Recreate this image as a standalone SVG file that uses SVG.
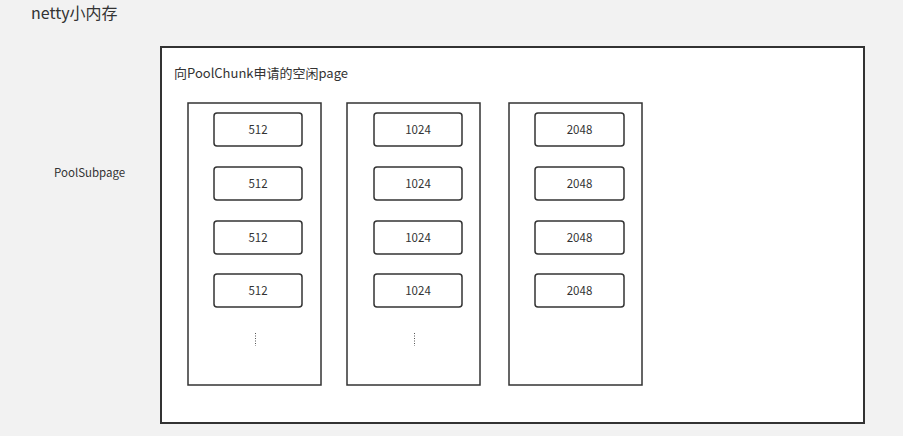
<svg xmlns="http://www.w3.org/2000/svg" width="903" height="436" viewBox="0 0 903 436">
<style>
text{font-family:"Noto Sans CJK SC","Open Sans","Liberation Sans",sans-serif;fill:#333}
.outer{fill:#fff;stroke:#333;stroke-width:2}
.col{fill:#fff;stroke:#333;stroke-width:1.5}
.cell{fill:#fff;stroke:#333;stroke-width:1.5}
.lbl{font-size:11.5px;text-anchor:middle}
.dots{stroke:#555;stroke-width:1;stroke-dasharray:1 1.5}
</style>
<rect width="903" height="436" fill="#f2f2f2"/>
<text x="31" y="19" font-size="16">netty小内存</text>
<text x="54" y="177" font-size="11.5">PoolSubpage</text>
<g id="chunk">
<rect class="outer" x="161" y="47" width="703" height="376"/>
<text x="174" y="78" font-size="13">向PoolChunk申请的空闲page</text>
</g>
<g id="col512">
<rect class="col" x="188" y="103" width="133" height="282"/>
</g>
<g id="col1024">
<rect class="col" x="347" y="103" width="133" height="282"/>
</g>
<g id="col2048">
<rect class="col" x="509" y="103" width="133" height="282"/>
</g>
<g id="c512a"><rect class="cell" x="214" y="113" width="88" height="33" rx="3"/><text class="lbl" x="258" y="133.5">512</text></g>
<g id="c512b"><rect class="cell" x="214" y="167" width="88" height="33" rx="3"/><text class="lbl" x="258" y="187.5">512</text></g>
<g id="c512c"><rect class="cell" x="214" y="221" width="88" height="33" rx="3"/><text class="lbl" x="258" y="241.5">512</text></g>
<g id="c512d"><rect class="cell" x="214" y="274" width="88" height="33" rx="3"/><text class="lbl" x="258" y="294.5">512</text></g>
<g id="c1024a"><rect class="cell" x="374" y="113" width="88" height="33" rx="3"/><text class="lbl" x="418" y="133.5">1024</text></g>
<g id="c1024b"><rect class="cell" x="374" y="167" width="88" height="33" rx="3"/><text class="lbl" x="418" y="187.5">1024</text></g>
<g id="c1024c"><rect class="cell" x="374" y="221" width="88" height="33" rx="3"/><text class="lbl" x="418" y="241.5">1024</text></g>
<g id="c1024d"><rect class="cell" x="374" y="274" width="88" height="33" rx="3"/><text class="lbl" x="418" y="294.5">1024</text></g>
<g id="c2048a"><rect class="cell" x="535" y="113" width="89" height="33" rx="3"/><text class="lbl" x="579.5" y="133.5">2048</text></g>
<g id="c2048b"><rect class="cell" x="535" y="167" width="89" height="33" rx="3"/><text class="lbl" x="579.5" y="187.5">2048</text></g>
<g id="c2048c"><rect class="cell" x="535" y="221" width="89" height="33" rx="3"/><text class="lbl" x="579.5" y="241.5">2048</text></g>
<g id="c2048d"><rect class="cell" x="535" y="274" width="89" height="33" rx="3"/><text class="lbl" x="579.5" y="294.5">2048</text></g>
<g id="connectors">
<line class="dots" x1="255.5" y1="333" x2="255.5" y2="346"/>
<line class="dots" x1="414.5" y1="333" x2="414.5" y2="346"/>
</g>
</svg>
